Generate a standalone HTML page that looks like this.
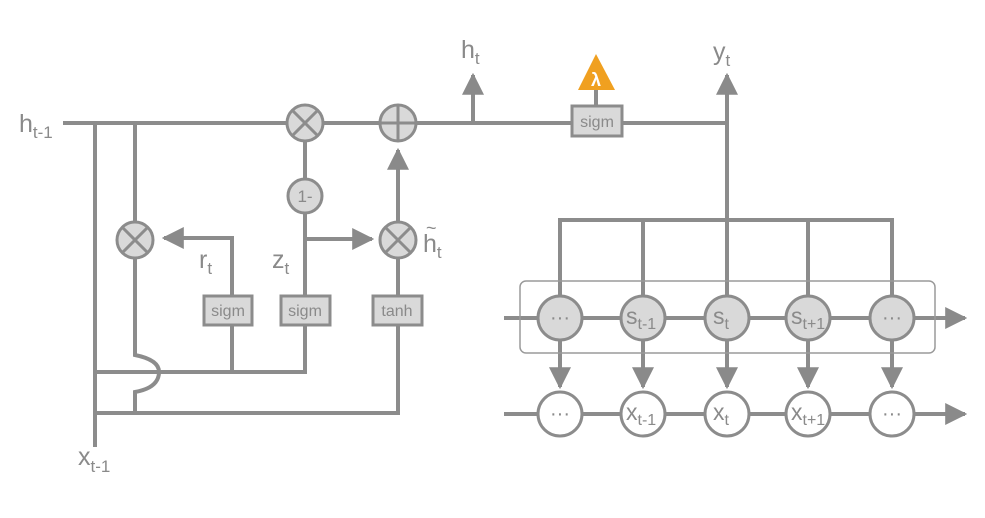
<!DOCTYPE html>
<html><head><meta charset="utf-8"><style>
body{margin:0;background:#fff}
svg{display:block}
text{font-family:"Liberation Sans",sans-serif;fill:#8a8a8a}
</style></head><body>
<svg width="985" height="518" viewBox="0 0 985 518" xmlns="http://www.w3.org/2000/svg">
<defs>
<marker id="a" viewBox="0 0 10 10" refX="9" refY="5" markerWidth="5.5" markerHeight="5.5" orient="auto" markerUnits="strokeWidth"><path d="M0,0 L10,5 L0,10 z" fill="#8a8a8a"/></marker>
</defs>
<g stroke="#8c8c8c" stroke-width="4" fill="none">
<line x1="63" y1="123" x2="729" y2="123"/>
<line x1="95" y1="121" x2="95" y2="447"/>
<path d="M135,121 V355 Q160,360 159,373 Q158,388 135,392 V413"/>
<line x1="93" y1="372" x2="307" y2="372"/>
<line x1="93" y1="413" x2="400" y2="413"/>
<line x1="305" y1="123" x2="305" y2="372"/>
<line x1="305" y1="239" x2="372" y2="239" marker-end="url(#a)"/>
<polyline points="232,372 232,238 164,238" marker-end="url(#a)"/>
<line x1="398" y1="413" x2="398" y2="240"/>
<line x1="398" y1="240" x2="398" y2="150" marker-end="url(#a)"/>
<line x1="473" y1="123" x2="473" y2="75" marker-end="url(#a)"/>
<line x1="727" y1="220" x2="727" y2="75" marker-end="url(#a)"/>
<line x1="596" y1="106" x2="596" y2="90"/>
<polyline points="560,318 560,220 892,220 892,318"/>
<line x1="643" y1="220" x2="643" y2="318"/>
<line x1="727" y1="220" x2="727" y2="318"/>
<line x1="808" y1="220" x2="808" y2="318"/>
<line x1="504" y1="318" x2="965" y2="318" marker-end="url(#a)"/>
<line x1="504" y1="414" x2="965" y2="414" marker-end="url(#a)"/>
<g>
<line x1="560" y1="318" x2="560" y2="387" marker-end="url(#a)"/>
<line x1="643" y1="318" x2="643" y2="387" marker-end="url(#a)"/>
<line x1="727" y1="318" x2="727" y2="387" marker-end="url(#a)"/>
<line x1="808" y1="318" x2="808" y2="387" marker-end="url(#a)"/>
<line x1="892" y1="318" x2="892" y2="387" marker-end="url(#a)"/>
</g>
</g>
<rect x="520" y="281" width="415" height="72" rx="6" fill="none" stroke="#9a9a9a" stroke-width="1.5"/>
<g stroke="#8c8c8c" stroke-width="3" fill="#d9d9d9">
<circle cx="305" cy="123" r="18"/>
<circle cx="398" cy="123" r="18"/>
<circle cx="135" cy="240" r="18"/>
<circle cx="398" cy="240" r="18"/>
<circle cx="305" cy="196" r="17"/>
<circle cx="560" cy="318" r="22"/><circle cx="643" cy="318" r="22"/><circle cx="727" cy="318" r="22"/><circle cx="808" cy="318" r="22"/><circle cx="892" cy="318" r="22"/>
<g fill="#fff"><circle cx="560" cy="414" r="22"/><circle cx="643" cy="414" r="22"/><circle cx="727" cy="414" r="22"/><circle cx="808" cy="414" r="22"/><circle cx="892" cy="414" r="22"/></g>
</g>
<g stroke="#8c8c8c" stroke-width="3">
<path d="M292,110 L318,136 M318,110 L292,136"/>
<path d="M122,227 L148,253 M148,227 L122,253"/>
<path d="M385,227 L411,253 M411,227 L385,253"/>
<path d="M398,105 V141 M380,123 H416"/>
</g>
<g stroke="#8c8c8c" stroke-width="3" fill="#d9d9d9">
<rect x="204" y="296" width="48" height="29"/>
<rect x="281" y="296" width="49" height="29"/>
<rect x="373" y="296" width="49" height="29"/>
<rect x="572" y="106" width="50" height="30"/>
</g>
<polygon points="596,54 578,90 615,90" fill="#f0a020"/>
<text x="596" y="86" font-size="18" font-weight="bold" text-anchor="middle" style="fill:#fff">λ</text>
<g font-size="16" text-anchor="middle">
<text x="228" y="316">sigm</text><text x="305" y="316">sigm</text><text x="397" y="316">tanh</text><text x="597" y="127">sigm</text>
<text x="305" y="202" font-size="17">1-</text>
</g>
<g font-size="20" text-anchor="middle">
<text x="560" y="324">···</text><text x="892" y="324">···</text>
<text x="560" y="420">···</text><text x="892" y="420">···</text>
</g>
<g font-size="25">
<text x="19" y="132">h<tspan font-size="17" dy="6">t-1</tspan></text>
<text x="78" y="465">x<tspan font-size="17" dy="7">t-1</tspan></text>
<text x="461" y="58">h<tspan font-size="17" dy="6">t</tspan></text>
<text x="713" y="60">y<tspan font-size="17" dy="6">t</tspan></text>
<text x="199" y="268">r<tspan font-size="17" dy="6">t</tspan></text>
<text x="272" y="268">z<tspan font-size="17" dy="6">t</tspan></text>
<text x="423" y="252">h<tspan font-size="17" dy="6">t</tspan></text>
<text x="426" y="234" font-size="18">~</text>
</g>
<g font-size="23">
<text x="626" y="324">s<tspan font-size="16" dy="5">t-1</tspan></text>
<text x="713" y="324">s<tspan font-size="16" dy="5">t</tspan></text>
<text x="791" y="324">s<tspan font-size="16" dy="5">t+1</tspan></text>
<text x="626" y="420">x<tspan font-size="16" dy="5">t-1</tspan></text>
<text x="713" y="420">x<tspan font-size="16" dy="5">t</tspan></text>
<text x="791" y="420">x<tspan font-size="16" dy="5">t+1</tspan></text>
</g>
</svg>
</body></html>
